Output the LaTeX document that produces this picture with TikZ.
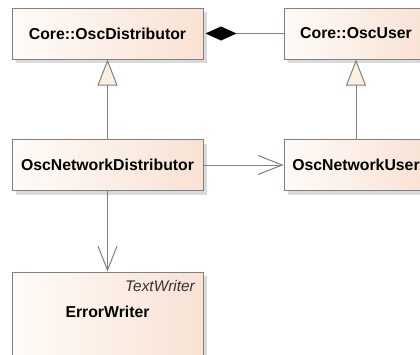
\documentclass[tikz,border=0pt]{standalone}
\usepackage{fontspec}
\setmainfont{Liberation Sans}
\usetikzlibrary{arrows.meta,shadows}
\definecolor{boxleft}{RGB}{255,251,248}
\definecolor{boxright}{RGB}{248,226,212}
\definecolor{edgegray}{RGB}{128,128,128}
\definecolor{shadowgray}{RGB}{218,218,218}
\definecolor{tricream}{RGB}{252,240,225}
\tikzset{
  classbox/.style={draw=edgegray, line width=1pt, inner sep=0pt,
    left color=boxleft, right color=boxright,
    minimum height=51pt,
    font=\fontsize{15.8}{19}\selectfont\bfseries,
    drop shadow={shadow xshift=4pt, shadow yshift=-4pt, fill=shadowgray, opacity=1}},
  link/.style={draw=edgegray, line width=1pt},
  inherit/.style={link, -{Triangle[open, length=26pt, width=20pt, fill=tricream, line width=1pt]}},
  compose/.style={link, -{Diamond[length=31pt, width=14pt, fill=black, color=black]}, shorten >=2pt},
  assoc/.style={link, -{Straight Barb[length=24pt, width=19pt, line width=1pt]}},
}
\begin{document}
\begin{tikzpicture}[x=1pt,y=-1pt]
  \useasboundingbox (0,0) rectangle (420,354);
  \node[classbox, minimum width=191pt] (dist) at (107.5,33.5) {Core::OscDistributor};
  \node[classbox, minimum width=144pt] (user) at (356,33.5) {Core::OscUser};
  \node[classbox, minimum width=191pt] (ndist) at (107.5,165) {OscNetworkDistributor};
  \node[classbox, minimum width=144pt] (nuser) at (356,165) {OscNetworkUser};
  \node[classbox, minimum width=191pt, minimum height=140pt] (err) at (107.5,342) {};
  \node[anchor=base east, inner sep=0pt, text=black!80,
        font=\fontsize{15.4}{18}\selectfont\itshape] (errbase) at (195,291) {TextWriter};
  \node[anchor=base, inner sep=0pt,
        font=\fontsize{15.8}{19}\selectfont\bfseries] (errname) at (107.5,317) {ErrorWriter};
  \draw[inherit] (ndist.north) -- (dist.south);
  \draw[inherit] (nuser.north) -- (user.south);
  \draw[compose] (user.west) -- (dist.east);
  \draw[assoc] (ndist.east) -- (nuser.west);
  \draw[assoc] (ndist.south) -- (err.north);
\end{tikzpicture}
\end{document}
